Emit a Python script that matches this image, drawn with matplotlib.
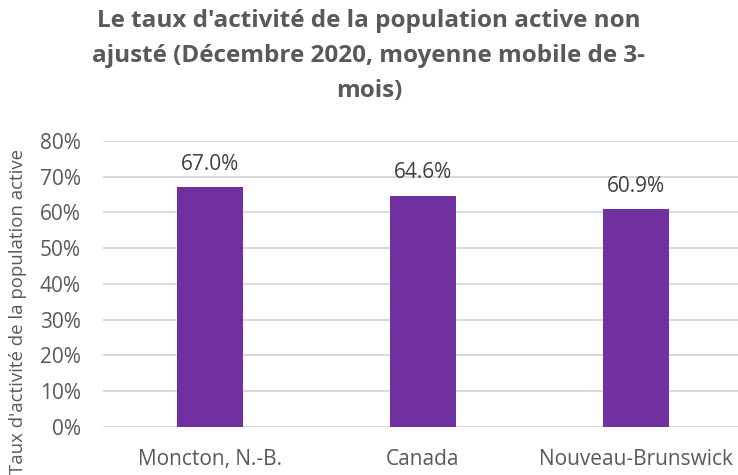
import matplotlib
matplotlib.use("Agg")
import matplotlib.pyplot as plt
from matplotlib.ticker import PercentFormatter

categories = ["Moncton, N.-B.", "Canada", "Nouveau-Brunswick"]
rates = [0.670, 0.646, 0.609]
value_labels = ["67.0%", "64.6%", "60.9%"]

title = ("Le taux d'activité de la population active non\n"
         "ajusté (Décembre 2020, moyenne mobile de 3-\n"
         "mois)")
ylabel = "Taux d'activité de la population active"

text_color = "#595959"
label_color = "#404040"
grid_color = "#d9d9d9"
bar_color = "#7030A0"

plt.rcParams['font.family'] = ['Open Sans', 'DejaVu Sans']

fig = plt.figure(figsize=(7.38, 4.75), dpi=100)
ax = fig.add_axes([103 / 738, 0.101, 635 / 738, 0.6027])

x = range(len(categories))
ax.bar(x, rates, width=0.31, color=bar_color, zorder=3)

for i, (v, lab) in enumerate(zip(rates, value_labels)):
    ax.annotate(lab, (i, v), xytext=(0, 9), textcoords="offset points",
                ha="center", va="bottom", fontsize=15, color=label_color)

ax.set_xlim(-0.5, 2.48)
ax.set_ylim(0, 0.8)
ax.set_yticks([i / 10 for i in range(9)])
ax.yaxis.set_major_formatter(PercentFormatter(1.0, decimals=0))
ax.set_xticks(list(x))
ax.set_xticklabels(categories)
ax.grid(axis="y", color=grid_color, linewidth=1.4, zorder=0)
for s in ax.spines.values():
    s.set_visible(False)
ax.tick_params(axis="both", length=0, labelsize=15, colors=text_color)
ax.tick_params(axis="x", pad=16)
ax.tick_params(axis="y", pad=16)

fig.text(0.024, 0.345, ylabel, rotation=90, ha="center", va="center",
         fontsize=13.4, color=text_color)
fig.text(0.5, 0.982, title, ha="center", va="top", fontsize=17.5,
         fontweight="bold", color=text_color, linespacing=1.62)

fig.savefig("out.png", dpi=100)
